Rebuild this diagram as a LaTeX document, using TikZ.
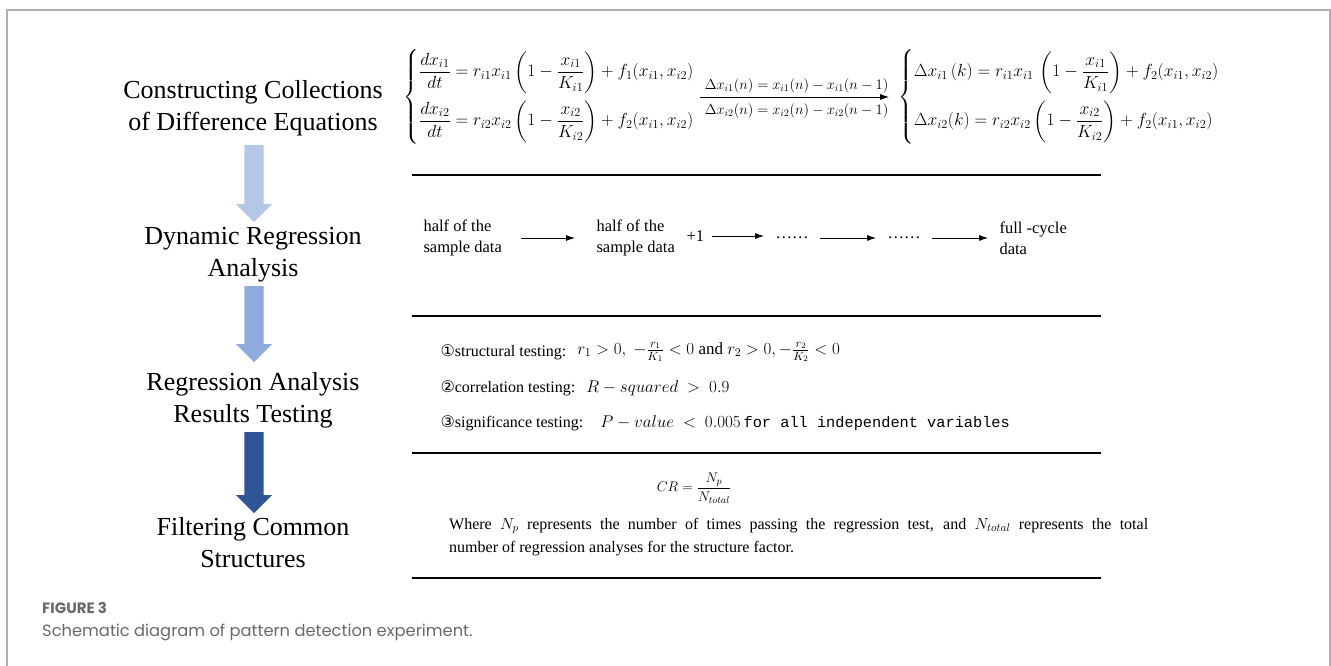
\documentclass[tikz,border=0pt]{standalone}
\usepackage{fix-cm}
\usepackage{amsmath,amssymb}
\usepackage{fontspec}
\setmainfont{Liberation Serif}
\setmonofont{Liberation Mono}
\newfontfamily\symfont{DejaVu Sans}
\newfontfamily\capfont{Poppins}
\usetikzlibrary{arrows.meta,positioning,shapes.arrows}
\definecolor{arrowA}{RGB}{180,199,231}
\definecolor{arrowB}{RGB}{143,170,220}
\definecolor{arrowC}{RGB}{47,85,151}
\definecolor{framegray}{RGB}{175,175,175}
\definecolor{capgray}{RGB}{105,105,105}

\begin{document}
\begin{tikzpicture}[x=1pt,y=-1pt,
    steplabel/.style={align=center,font=\fontsize{26}{32}\selectfont},
    blockarrow/.style={single arrow,draw=none,rotate=-90,anchor=tail,inner xsep=0pt,inner ysep=9.5pt,
        single arrow head extend=8.5pt,single arrow tip angle=90},
    rule/.style={line width=1.4pt},
    datatext/.style={align=left,anchor=west,font=\fontsize{16.5}{21}\selectfont},
    flow/.style={-{Latex[length=9pt,width=6pt]},line width=0.8pt,shorten <=8pt,shorten >=8pt},
    testlabel/.style={anchor=west,font=\fontsize{16}{20}\selectfont},
    eqbox/.style={anchor=west,font=\fontsize{17.5}{20}\selectfont}]
    \useasboundingbox (0,0) rectangle (1331,666);

    % frame
    \draw[framegray,line width=1.2pt] (7,666) -- (7,10) -- (1330,10) -- (1330,666);

    % steps on the left
    \node[steplabel] (s1) at (253,108) {Constructing Collections\\of Difference Equations};
    \node[steplabel] (s2) at (253,255) {Dynamic Regression\\Analysis};
    \node[steplabel] (s3) at (253,400) {Regression Analysis\\Results Testing};
    \node[steplabel] (s4) at (253,543) {Filtering Common\\Structures};

    % block arrows
    \foreach \n/\y/\len/\col in {a1/145/77/arrowA, a2/286/76/arrowB, a3/432/81/arrowC}
        \node[blockarrow,fill=\col,minimum height=\len pt] (\n) at (254,\y) {};

    % separating rules
    \foreach \y in {175,316,453,578}
        \draw[rule] (412,\y) -- (1101,\y);

    % equations
    \node[eqbox] (eqL) at (400,97) {$\left\{\begin{array}{@{}l@{}}
        \dfrac{dx_{i1}}{dt}=r_{i1}x_{i1}\left(1-\dfrac{x_{i1}}{K_{i1}}\right)+f_1(x_{i1},x_{i2})\\ \noalign{\vskip 7pt}
        \dfrac{dx_{i2}}{dt}=r_{i2}x_{i2}\left(1-\dfrac{x_{i2}}{K_{i2}}\right)+f_2(x_{i1},x_{i2})
        \end{array}\right.$};
    \node[eqbox] (eqR) at (895,97) {$\left\{\begin{array}{@{}l@{}}
        \Delta x_{i1}\,(k)=r_{i1}x_{i1}\,\left(1-\dfrac{x_{i1}}{K_{i1}}\right)+f_2(x_{i1},x_{i2})\\ \noalign{\vskip 7pt}
        \Delta x_{i2}(k)=r_{i2}x_{i2}\left(1-\dfrac{x_{i2}}{K_{i2}}\right)+f_2(x_{i1},x_{i2})
        \end{array}\right.$};
    \draw[-{Latex[length=9pt,width=6pt]},line width=0.8pt,shorten <=2pt,shorten >=6pt] (eqL) -- (eqR)
        node[midway,above=0pt,font=\fontsize{14.5}{15}\selectfont] {$\Delta x_{i1}(n)=x_{i1}(n)-x_{i1}(n-1)$}
        node[midway,below=3pt,font=\fontsize{14.5}{15}\selectfont] {$\Delta x_{i2}(n)=x_{i2}(n)-x_{i2}(n-1)$};

    % dynamic regression
    \node[datatext] (h1) at (420,238) {half of the\\sample data};
    \node[datatext] (h2) at (593,238) {half of the\\sample data};
    \node[datatext] (plus) at (683,236) {+1};
    \node[datatext] (d1) at (772,238) {……};
    \node[datatext] (d2) at (884,238) {……};
    \node[datatext] (full) at (996,238) {full -cycle\\data};
    \draw[flow,shorten <=16pt,shorten >=18pt] (h1) -- (h2);
    \draw[flow,shorten <=4pt] (plus.east) -- (d1.west |- plus.east);
    \draw[flow] (d1) -- (d2);
    \draw[flow] (d2) -- (full);

    % testing
    \node[testlabel] (t1) at (437,352) {{\symfont ①}structural testing:};
    \node[testlabel] (t2) at (437,388) {{\symfont ②}correlation testing:};
    \node[testlabel] (t3) at (437,423) {{\symfont ③}significance testing:};
    \node[testlabel,font=\fontsize{17}{20}\selectfont,right=4pt of t1] (m1) {$r_1>0,\ -\frac{r_1}{K_1}<0$ and $r_2>0,-\frac{r_2}{K_2}<0$};
    \node[testlabel,font=\fontsize{17}{20}\selectfont,right=4pt of t2] (m2) {$R-squared\ >\ 0.9$};
    \node[testlabel,font=\fontsize{17}{20}\selectfont,right=10pt of t3] (m3) {$P-value\ <\ 0.005$\,{\ttfamily\fontsize{15.3}{18}\selectfont for all independent variables}};

    % common structures
    \node[font=\fontsize{14}{16}\selectfont] (cr) at (694,488) {$CR=\dfrac{N_p}{N_{total}}$};
    \node[anchor=north west,text width=699pt,inner sep=0pt,align=justify,font=\fontsize{16}{23}\selectfont] (where) at (449,518)
        {Where $N_p$ represents the number of times passing the regression test, and $N_{total}$ represents the total\linebreak
        number of regression analyses for the structure factor.};

    % caption
    \node[anchor=west,inner sep=0pt,font=\capfont\bfseries\fontsize{15}{17}\selectfont,text=capgray] (fig) at (42,608) {FIGURE 3};
    \node[anchor=west,inner sep=0pt,font=\capfont\fontsize{16.3}{19}\selectfont,text=capgray] (cap) at (42,632) {Schematic diagram of pattern detection experiment.};
\end{tikzpicture}
\end{document}
